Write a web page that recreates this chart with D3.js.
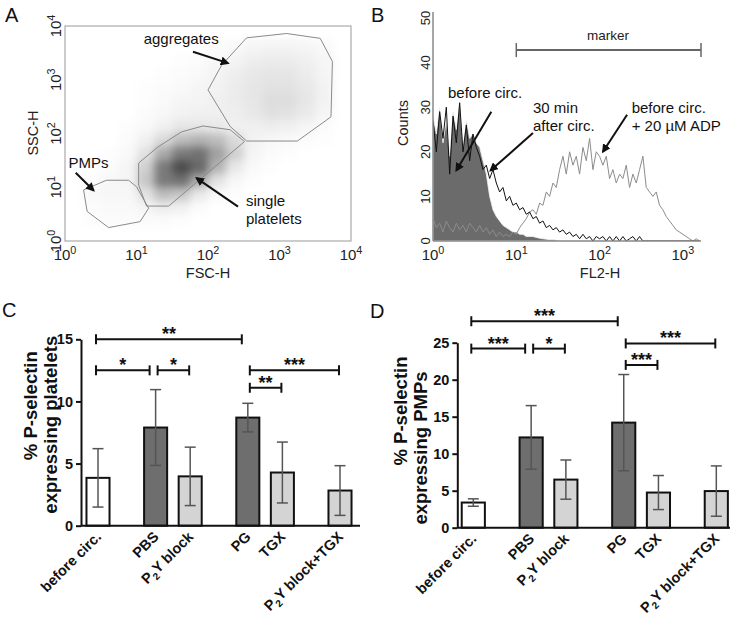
<!DOCTYPE html>
<html><head><meta charset="utf-8">
<script src="https://cdn.jsdelivr.net/npm/d3@7"></script>
<style>
body{margin:0;background:#fff}
svg{display:block}
text{font-family:"Liberation Sans",Arial,Helvetica,sans-serif}
</style>
</head><body>
<svg id="fig" width="738" height="617"></svg>
<script>
// ================= DATA =================
// Panel A – event density, 0.25-decade bins, rows from top (SSC 10^4) to bottom
const scatterBin = 0.25;
const scatterDensity = [
  [0,0,0,0,0,0,0,0,0,0,0,0,0,0,0,0],
  [0,0,0,0,0,0,0,0,0.2,0.3,0.5,0.6,0.6,0.5,0.3,0],
  [0,0,0,0,0,0,0.1,0.2,0.4,0.6,0.9,1,1,0.8,0.5,0],
  [0,0,0,0,0,0.1,0.2,0.3,0.6,0.9,1.2,1.3,1.3,1,0.6,0],
  [0,0,0,0,0.1,0.2,0.3,0.5,0.7,1,1.3,1.5,1.5,1.2,0.7,0],
  [0,0,0,0,0.1,0.3,0.5,0.6,0.8,1,1.3,1.8,1.8,1.3,0.7,0],
  [0,0,0,0,0.2,0.4,0.7,0.8,0.8,0.9,1.2,1.6,1.5,1.1,0.5,0],
  [0,0,0,0.1,0.3,0.8,1.3,1.3,1.2,0.8,0.8,0.9,0.8,0.5,0.2,0],
  [0,0,0,0.2,0.8,2,3.5,4,3.5,2,0.7,0.4,0.3,0.2,0.1,0],
  [0,0,0.1,0.3,1.5,4.5,7,7.5,5,2.5,0.6,0.2,0.1,0,0,0],
  [0,0,0.2,0.5,2.5,7,9.5,8,4,1.2,0.3,0.1,0,0,0,0],
  [0,0.2,0.4,0.5,3,7,7.5,4.5,1.5,0.4,0.1,0,0,0,0,0],
  [0,0.3,0.4,0.4,1.5,3.5,3,1.2,0.3,0.1,0,0,0,0,0,0],
  [0,0.2,0.3,0.3,0.6,1,0.8,0.2,0,0,0,0,0,0,0,0],
  [0,0.1,0.2,0.2,0.2,0.2,0.1,0,0,0,0,0,0,0,0,0],
  [0,0,0,0,0,0,0,0,0,0,0,0,0,0,0,0]
];
// gates, vertices in decades [log FSC, log SSC]
const gateAggregates = [[2.19,3.27],[2.54,3.78],[3.10,3.86],[3.57,3.77],[3.74,3.34],[3.72,2.31],[3.25,1.86],[2.54,1.86],[2.31,2.13],[2.00,2.81]];
const gateSingle = [[1.03,1.45],[1.30,1.75],[1.63,2.03],[1.93,2.14],[2.31,2.07],[2.51,1.85],[1.45,0.65],[1.14,0.65],[1.03,1.04]];
const gatePMPs = [[0.26,0.95],[0.58,1.13],[0.89,1.13],[1.00,1.01],[1.17,0.61],[1.05,0.36],[0.61,0.25],[0.31,0.55]];
const decadesA = [0,1,2,3,4];

// Panel B – FL2-H histograms, channel i at 10^(i*histStep)
const histStep = 0.04;
const countsBefore = [28,24,30,22,27,19,29,25,31,21,27,23,24,22,21,18,15,10,7,5.5,4.5,3.5,3,2.5,2,2,1.5,1.5,1,1,1,0.8,0.6,0.5,0.4,0.3,0.3,0.2,
  0,0,0,0,0,0,0,0,0,0,0,0,0,0,0,0,0,0,0,0,0,0,0,0,0,0,0,0,0,0,0,0,0,0,0,0,0,0,0,0,0,0,0];
const countsAfter30 = [27,20,29,23,30,15,28,22,31,20,26,18,24,21,19,16,17,14,16,13,11,12,9,10,8,8.5,7,7.5,6,6.5,5,5.5,4,4.5,3,3.5,2.5,3,2,2.5,
  1.5,2,1,1.5,0.5,1.5,0.5,1,0,1,0.5,1,0,1,0,1,0,1,0,0.5,1,0,1,0,0,0,0,0,0,0,0,0,0,0,0,0,0,0,0,0,0];
const countsADP = [5,3,4,2,4.5,3,2,4,2.5,3.5,2,4,3,2,3.5,2,3,1.5,2.5,1,2,1,1.5,1,2,1.5,3,4,5,6.5,7,6,8.5,8,11,10,13,12,16,19,
  15,20,17,19,15,21,18,23,16,20,19,17,19,14,16,13,15,14,17,12,15,13,16,19,12,11,10,11,8,7,5.5,4.5,3.5,2.5,2,1.5,1,0.5,0,0.5,0];
const countTicks = [0,10,20,30,40,50];
const decadesB = [0,1,2,3];
const markerRange = [10, 1650];

// Panels C & D
const conditions = ["before circ.","PBS","P2Y block","PG","TGX","P2Y block+TGX"];
const conditionGroup = [0,1,1,2,2,3];
const plateletMean = [3.85,7.9,3.97,8.7,4.28,2.83];
const plateletSD   = [2.35,3.05,2.35,1.15,2.45,2.0];
const pmpMean = [3.4,12.2,6.5,14.2,4.75,4.95];
const pmpSD   = [0.5,4.3,2.65,6.5,2.3,3.4];
const plateletTicks = [0,5,10,15];
const pmpTicks = [0,5,10,15,20,25];
const plateletSig = [
  {from:0,to:3,label:"**",level:15},
  {from:0,to:1,label:"*",level:12.5},
  {from:1,to:2,label:"*",level:12.5},
  {from:3,to:5,label:"***",level:12.5},
  {from:3,to:4,label:"**",level:11.1}];
const pmpSig = [
  {from:0,to:3,label:"***",level:27.9},
  {from:0,to:1,label:"***",level:24.2},
  {from:1,to:2,label:"*",level:24.2},
  {from:3,to:5,label:"***",level:24.9},
  {from:3,to:4,label:"***",level:22.0}];

// ================= DRAWING =================
const svg = d3.select("#fig");
const defs = svg.append("defs");
defs.append("marker").attr("id","ah").attr("viewBox","0 0 10 10").attr("refX",8).attr("refY",5)
  .attr("markerWidth",4.5).attr("markerHeight",4.5).attr("orient","auto")
  .append("path").attr("d","M0,0L10,5L0,10z").attr("fill","#111");
defs.append("filter").attr("id","blur").attr("x","-20%").attr("y","-20%").attr("width","140%").attr("height","140%")
  .append("feGaussianBlur").attr("stdDeviation",4.5);

function panelLetter(t,x,y){
  svg.append("text").attr("x",x).attr("y",y).attr("font-size",20).attr("fill","#111").text(t);
}
function logLabel(g, exp, size){
  g.append("tspan").text("10");
  g.append("tspan").attr("dy",-size*0.42).attr("font-size",size*0.72).text(exp);
}
function arrow(x1,y1,x2,y2){
  svg.append("line").attr("x1",x1).attr("y1",y1).attr("x2",x2).attr("y2",y2)
    .attr("stroke","#111").attr("stroke-width",2).attr("marker-end","url(#ah)");
}

// ---------- Panel A ----------
(function(){
  const x = d3.scaleLog().domain([1,1e4]).range([65,351]);
  const y = d3.scaleLog().domain([1,1e4]).range([241,26]);
  svg.append("clipPath").attr("id","clipA").append("rect").attr("x",65).attr("y",26).attr("width",286).attr("height",215);
  const cells = [];
  scatterDensity.forEach((row,r)=>row.forEach((v,c)=>{ if(v>0) cells.push({r,c,v}); }));
  const n = scatterDensity.length;
  svg.append("g").attr("clip-path","url(#clipA)").append("g").attr("filter","url(#blur)")
    .selectAll("rect").data(cells).enter().append("rect")
    .attr("x",d=>x(Math.pow(10,d.c*scatterBin)))
    .attr("width",d=>x(Math.pow(10,(d.c+1)*scatterBin))-x(Math.pow(10,d.c*scatterBin)))
    .attr("y",d=>y(Math.pow(10,(n-d.r)*scatterBin)))
    .attr("height",d=>y(Math.pow(10,(n-d.r-1)*scatterBin))-y(Math.pow(10,(n-d.r)*scatterBin)))
    .attr("fill","#000").attr("fill-opacity",d=>Math.min(0.75,d.v*0.075));
  svg.append("rect").attr("x",65).attr("y",26).attr("width",286).attr("height",215)
    .attr("fill","none").attr("stroke","#999").attr("stroke-width",1);
  const line = d3.line().x(d=>x(Math.pow(10,d[0]))).y(d=>y(Math.pow(10,d[1])));
  [gateAggregates,gateSingle,gatePMPs].forEach(g=>{
    svg.append("path").attr("d",line(g)+"Z").attr("fill","none").attr("stroke","#8a8a8a").attr("stroke-width",1);
  });
  decadesA.forEach(d=>{
    const t = svg.append("text").attr("x",x(Math.pow(10,d))).attr("y",260).attr("text-anchor","middle")
      .attr("font-size",15).attr("fill","#222");
    logLabel(t,d,15);
    const ty = svg.append("text").attr("transform",`translate(61,${y(Math.pow(10,d))}) rotate(-90)`)
      .attr("text-anchor","middle").attr("font-size",15).attr("fill","#222");
    logLabel(ty,d,15);
  });
  svg.append("text").attr("x",208).attr("y",278).attr("text-anchor","middle").attr("font-size",14.5).attr("fill","#222").text("FSC-H");
  svg.append("text").attr("transform","translate(38,133) rotate(-90)").attr("text-anchor","middle").attr("font-size",14.5).attr("fill","#222").text("SSC-H");
  const P = (a,b)=>[x(Math.pow(10,a)),y(Math.pow(10,b))];
  const ann = (t,a,b)=>{const p=P(a,b); svg.append("text").attr("x",p[0]).attr("y",p[1]).attr("dominant-baseline","central").attr("font-size",15).attr("fill","#111").text(t);};
  ann("aggregates",1.10,3.76);
  ann("PMPs",0.05,1.46);
  ann("single",2.53,0.76);
  ann("platelets",2.53,0.42);
  let a=P(1.79,3.52), b=P(2.28,3.31); arrow(a[0],a[1],b[0],b[1]);
  a=P(0.15,1.27); b=P(0.40,0.94); arrow(a[0],a[1],b[0],b[1]);
  a=P(2.42,0.64); b=P(1.84,1.17); arrow(a[0],a[1],b[0],b[1]);
  panelLetter("A",5,22);
})();

// ---------- Panel B ----------
(function(){
  const x = d3.scaleLog().domain([1,1650]).range([433,701]);
  const y = d3.scaleLinear().domain([0,50]).range([241,18]);
  svg.append("clipPath").attr("id","clipB").append("rect").attr("x",433).attr("y",10).attr("width",268).attr("height",231);
  const g = svg.append("g").attr("clip-path","url(#clipB)");
  const fx = (v,i)=>x(Math.pow(10,i*histStep));
  const area = d3.area().x((v,i)=>fx(v,i)).y0(y(0)).y1(v=>y(v));
  const line = d3.line().x((v,i)=>fx(v,i)).y(v=>y(v));
  g.append("path").attr("d",area(countsBefore)).attr("fill","#6b6b6b").attr("stroke","#f2f2f2").attr("stroke-width",0.8);
  g.append("path").attr("d",line(countsADP)).attr("fill","none").attr("stroke","#8c8c8c").attr("stroke-width",1);
  g.append("path").attr("d",line(countsAfter30)).attr("fill","none").attr("stroke","#111").attr("stroke-width",1);
  svg.append("line").attr("x1",433).attr("x2",433).attr("y1",12).attr("y2",241).attr("stroke","#888").attr("stroke-width",1.5);
  svg.append("line").attr("x1",433).attr("x2",701).attr("y1",241).attr("y2",241).attr("stroke","#888").attr("stroke-width",1.5);
  countTicks.forEach(c=>{
    svg.append("text").attr("transform",`translate(430,${y(c)}) rotate(-90)`).attr("text-anchor","middle")
      .attr("font-size",13).attr("fill","#222").text(c);
  });
  decadesB.forEach(d=>{
    const t = svg.append("text").attr("x",x(Math.pow(10,d))).attr("y",260).attr("text-anchor","middle")
      .attr("font-size",15).attr("fill","#222");
    logLabel(t,d,15);
  });
  svg.append("text").attr("x",600).attr("y",278).attr("text-anchor","middle").attr("font-size",14.5).attr("fill","#222").text("FL2-H");
  svg.append("text").attr("transform","translate(408,123) rotate(-90)").attr("text-anchor","middle").attr("font-size",14.5).attr("fill","#222").text("Counts");
  const my = y(42.8);
  svg.append("line").attr("x1",x(markerRange[0])).attr("x2",x(markerRange[1])).attr("y1",my).attr("y2",my).attr("stroke","#666").attr("stroke-width",2);
  markerRange.forEach(m=>svg.append("line").attr("x1",x(m)).attr("x2",x(m)).attr("y1",my-7).attr("y2",my+7).attr("stroke","#666").attr("stroke-width",1.5));
  svg.append("text").attr("x",x(126)).attr("y",my-10).attr("text-anchor","middle").attr("font-size",13.5).attr("fill","#222").text("marker");
  const P=(a,b)=>[x(Math.pow(10,a)),y(b)];
  const ann=(t,a,b)=>{const p=P(a,b); svg.append("text").attr("x",p[0]).attr("y",p[1]).attr("dominant-baseline","central").attr("font-size",15).attr("fill","#111").text(t);};
  ann("before circ.",0.18,33.2);
  ann("30 min",1.20,30.0);
  ann("after circ.",1.20,26.0);
  ann("before circ.",2.385,30.0);
  ann("+ 20 µM ADP",2.385,26.0);
  let a=P(0.70,29.0), b=P(0.28,15.8); arrow(a[0],a[1],b[0],b[1]);
  a=P(1.20,24.2); b=P(0.69,15.8); arrow(a[0],a[1],b[0],b[1]);
  a=P(2.33,28.3); b=P(2.04,20.0); arrow(a[0],a[1],b[0],b[1]);
  panelLetter("B",371,22);
})();

// ---------- Panels C & D ----------
const barFill = ["#ffffff","#6e6e6e","#d4d4d4","#6e6e6e","#d4d4d4","#d4d4d4"];
function barPanel(o){
  // unit positions: step 3 inside a group, 5 between groups
  const pos = []; let p = 0;
  conditionGroup.forEach((gI,i)=>{ if(i>0) p += (gI===conditionGroup[i-1]?3:5); pos.push(p); });
  const x = d3.scaleLinear().domain([0,d3.max(pos)]).range(o.xr);
  const y = d3.scaleLinear().domain([0,d3.max(o.ticks)]).range(o.yr);
  const unit = x(1)-x(0);
  const bw = unit*2;
  const g = svg.append("g");
  o.mean.forEach((m,i)=>{
    g.append("rect").attr("x",x(pos[i])-bw/2).attr("y",y(m)).attr("width",bw).attr("height",y(0)-y(m))
      .attr("fill",barFill[i]).attr("stroke","#111").attr("stroke-width",2);
  });
  o.mean.forEach((m,i)=>{
    const cx=x(pos[i]), t=y(m+o.sd[i]), b=y(Math.max(0,m-o.sd[i]));
    g.append("line").attr("x1",cx).attr("x2",cx).attr("y1",t).attr("y2",b).attr("stroke","#555").attr("stroke-width",1.5);
    [t,b].forEach(v=>g.append("line").attr("x1",cx-5.5).attr("x2",cx+5.5).attr("y1",v).attr("y2",v).attr("stroke","#555").attr("stroke-width",1.5));
  });
  g.append("line").attr("x1",o.axisX).attr("x2",o.axisEnd).attr("y1",y(0)).attr("y2",y(0)).attr("stroke","#111").attr("stroke-width",2);
  const ax = g.append("g").attr("transform",`translate(${o.axisX},0)`)
    .call(d3.axisLeft(y).tickValues(o.ticks).tickSize(5).tickPadding(3).tickSizeOuter(0));
  ax.select(".domain").attr("stroke","#111").attr("stroke-width",2);
  ax.selectAll(".tick line").attr("stroke","#111").attr("stroke-width",2);
  ax.selectAll(".tick text").attr("font-size",14.5).attr("font-weight","bold").attr("fill","#111")
    .attr("font-family","'Liberation Sans',Arial,sans-serif");
  conditions.forEach((c,i)=>{
    const t = g.append("text").attr("transform",`translate(${x(pos[i])+4},${y(0)+12}) rotate(-45)`)
      .attr("text-anchor","end").attr("font-size",14.5).attr("font-weight","bold").attr("fill","#111");
    if(c.startsWith("P2Y")){
      t.append("tspan").text("P");
      t.append("tspan").attr("dy",4).attr("font-size",10).text("2");
      t.append("tspan").attr("dy",-4).text(c.slice(2));
    } else t.text(c);
  });
  const starts = new Set(o.sig.map(s=>s.from));
  const ends = new Set(o.sig.map(s=>s.to));
  o.sig.forEach(s=>{
    const x1 = x(pos[s.from]) + (ends.has(s.from)?2:-2);
    const x2 = x(pos[s.to]) + (starts.has(s.to)?-6:-1);
    const yy = y(s.level);
    g.append("line").attr("x1",x1).attr("x2",x2).attr("y1",yy).attr("y2",yy).attr("stroke","#111").attr("stroke-width",2);
    [x1,x2].forEach(v=>g.append("line").attr("x1",v).attr("x2",v).attr("y1",yy-5).attr("y2",yy+5).attr("stroke","#111").attr("stroke-width",2));
    g.append("text").attr("x",(x1+x2)/2).attr("y",yy+1).attr("text-anchor","middle").attr("font-size",18)
      .attr("font-weight","bold").attr("fill","#111").text(s.label);
  });
  o.titles.forEach(tt=>{
    g.append("text").attr("transform",`translate(${tt[1]},${tt[2]}) rotate(-90)`).attr("text-anchor","middle")
      .attr("font-size",18.5).attr("font-weight","bold").attr("fill","#111").text(tt[0]);
  });
}
barPanel({xr:[98,340], yr:[525.7,339.3], axisX:81, axisEnd:360, ticks:plateletTicks, mean:plateletMean, sd:plateletSD,
  sig:plateletSig, titles:[["% P-selectin",37,405.7],["expressing platelets",57,424.7]]});
barPanel({xr:[473.3,716.3], yr:[527.7,342.7], axisX:457.3, axisEnd:730, ticks:pmpTicks, mean:pmpMean, sd:pmpSD,
  sig:pmpSig, titles:[["% P-selectin",407,411],["expressing PMPs",427,448]]});
panelLetter("C",2,317);
panelLetter("D",370,318);
</script>
</body></html>
